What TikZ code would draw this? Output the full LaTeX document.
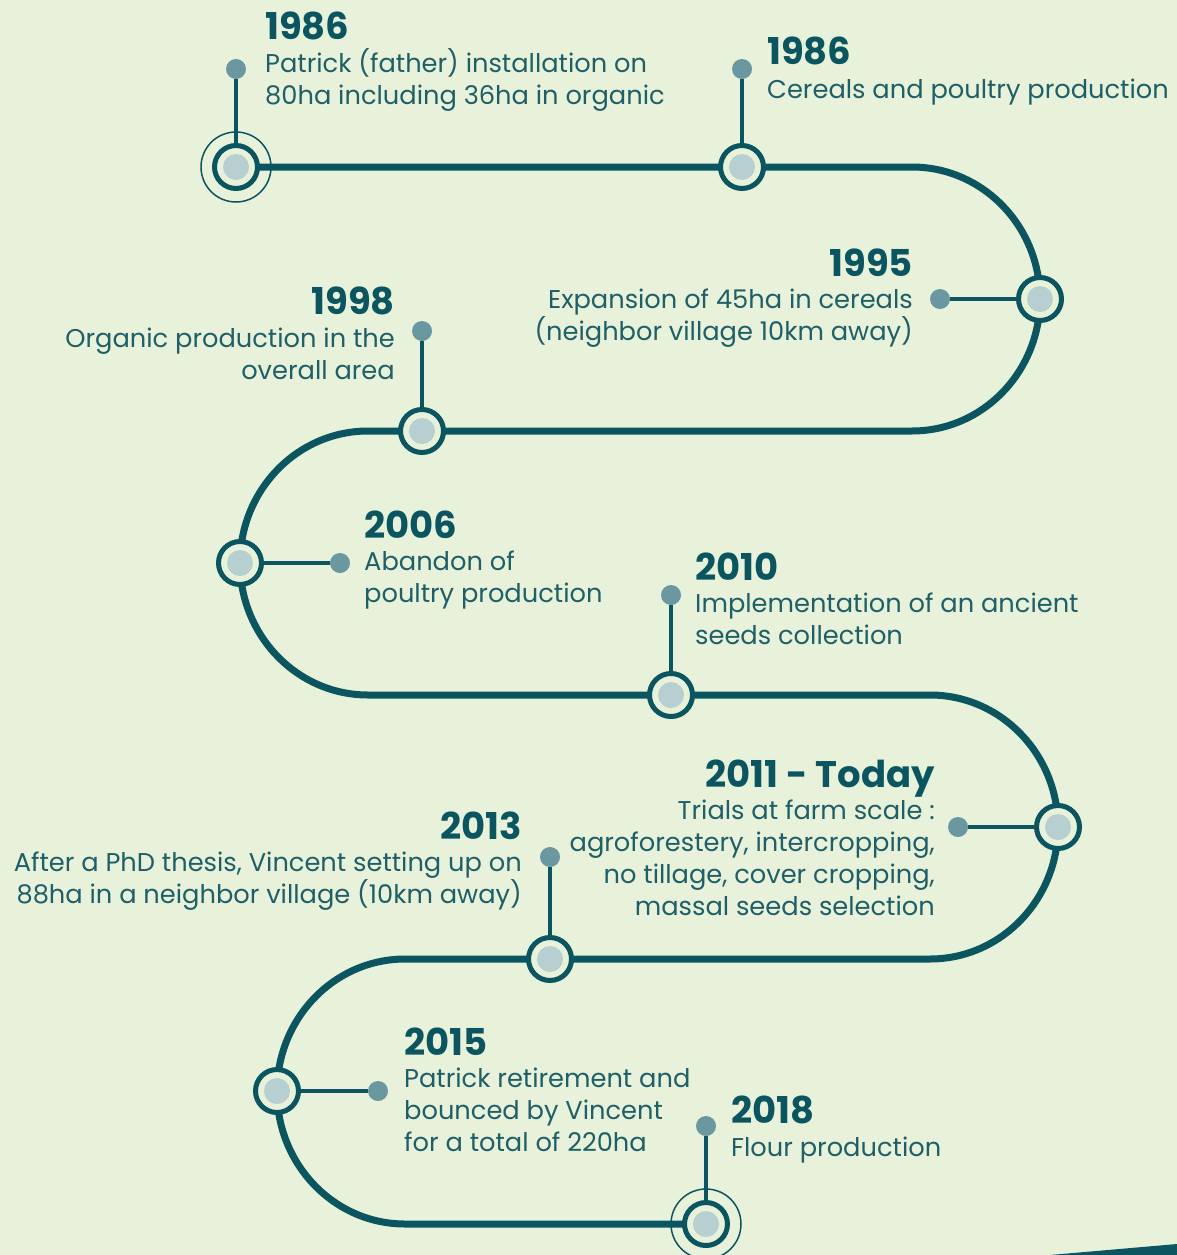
\documentclass[tikz,border=0pt]{standalone}
\usepackage{fontspec}
\setmainfont{Poppins}
\usepackage{tikz}
\definecolor{paper}{HTML}{E8F1DA}
\definecolor{trackc}{HTML}{0B5560}
\definecolor{dotc}{HTML}{6A97A0}
\definecolor{discc}{HTML}{B7CFD0}
\definecolor{notec}{HTML}{1F5F67}
\tikzset{
  track/.style={draw=trackc, line width=7pt},
  stem/.style={draw=trackc, line width=4pt},
  halo/.style={draw=trackc, line width=1.5pt},
  dot/.style={circle, fill=dotc, minimum size=20pt, inner sep=0pt},
  stop/.style={circle, draw=trackc, line width=5pt, fill=paper, minimum size=43pt, inner sep=0pt,
    path picture={\fill[discc] (path picture bounding box.center) circle (13pt);}},
  year/.style={font=\bfseries\fontsize{37}{37}\selectfont, text=trackc, inner sep=0pt},
  note/.style={font=\fontsize{25.7}{32}\selectfont, text=notec, inner sep=0pt},
}
\begin{document}
\begin{tikzpicture}[x=1pt,y=-1pt]
              \fill[paper] (0,0) rectangle (1177,1255);
              \useasboundingbox (0,0) rectangle (1177,1255);
              \fill[trackc] (1050,1255) -- (1177,1244) -- (1177,1255) -- cycle;

              % the winding road
              \draw[track] (236,167) -- (912,167)
                arc[start angle=-90, end angle=90, x radius=128, y radius=132] -- (368,431)
                arc[start angle=270, end angle=90, x radius=128, y radius=132] -- (930,695)
                arc[start angle=-90, end angle=90, x radius=128, y radius=132] -- (405,959)
                arc[start angle=270, end angle=90, x radius=128, y radius=132.5] -- (706,1224);

              \node[stop] (c1) at (236,167) {};
              \node[stop] (c2) at (742,167) {};
              \node[stop] (c3) at (1040,299) {};
              \node[stop] (c4) at (422,431) {};
              \node[stop] (c5) at (240,563) {};
              \node[stop] (c6) at (671,695) {};
              \node[stop] (c7) at (1058,827) {};
              \node[stop] (c8) at (550,959) {};
              \node[stop] (c9) at (277,1091) {};
              \node[stop] (c10) at (706,1224) {};
              \draw[halo] (c1) circle (35);
              \draw[halo] (c10) circle (35);

              \node[dot] (d1) at (236,69) {};
              \node[dot] (d2) at (742,69) {};
              \node[dot] (d3) at (940,299) {};
              \node[dot] (d4) at (422,331) {};
              \node[dot] (d5) at (340,563) {};
              \node[dot] (d6) at (671,595) {};
              \node[dot] (d7) at (958,827) {};
              \node[dot] (d8) at (550,857) {};
              \node[dot] (d9) at (378,1091) {};
              \node[dot] (d10) at (706,1126) {};

              \foreach \i in {1,...,10}
                \draw[stem] (d\i) -- (c\i);

              % labels (base = last line)
              \node[year, anchor=base west] (y1) at (265,40) {1986};
              \node[note, anchor=base west, align=left] (t1) at (265,104) {Patrick (father) installation on\\80ha including 36ha in organic};
              \node[year, anchor=base west] (y2) at (767,65) {1986};
              \node[note, anchor=base west, align=left] (t2) at (767,98) {Cereals and poultry production};
              \node[year, anchor=base east] (y3) at (913,276) {1995};
              \node[note, anchor=base east, align=right] (t3) at (913,340) {Expansion of 45ha in cereals\\(neighbor village 10km away)};
              \node[year, anchor=base east] (y4) at (395,314) {1998};
              \node[note, anchor=base east, align=right] (t4) at (395,379) {Organic production in the\\overall area};
              \node[year, anchor=base west] (y5) at (364,538) {2006};
              \node[note, anchor=base west, align=left] (t5) at (364,602) {Abandon of\\poultry production};
              \node[year, anchor=base west] (y6) at (695,580) {2010};
              \node[note, anchor=base west, align=left] (t6) at (695,644) {Implementation of an ancient\\seeds collection};
              \node[year, anchor=base east] (y7) at (935,787) {2011 - Today};
              \node[note, anchor=base east, align=right] (t7) at (935,915) {Trials at farm scale :\\agroforestery, intercropping,\\no tillage, cover cropping,\\massal seeds selection};
              \node[year, anchor=base east] (y8) at (522,839) {2013};
              \node[note, anchor=base east, align=right] (t8) at (522,903) {After a PhD thesis, Vincent setting up on\\88ha in a neighbor village (10km away)};
              \node[year, anchor=base west] (y9) at (404,1055) {2015};
              \node[note, anchor=base west, align=left] (t9) at (404,1151) {Patrick retirement and\\bounced by Vincent\\for a total of 220ha};
              \node[year, anchor=base west] (y10) at (731,1123) {2018};
              \node[note, anchor=base west, align=left] (t10) at (731,1156) {Flour production};
            \end{tikzpicture}
\end{document}
